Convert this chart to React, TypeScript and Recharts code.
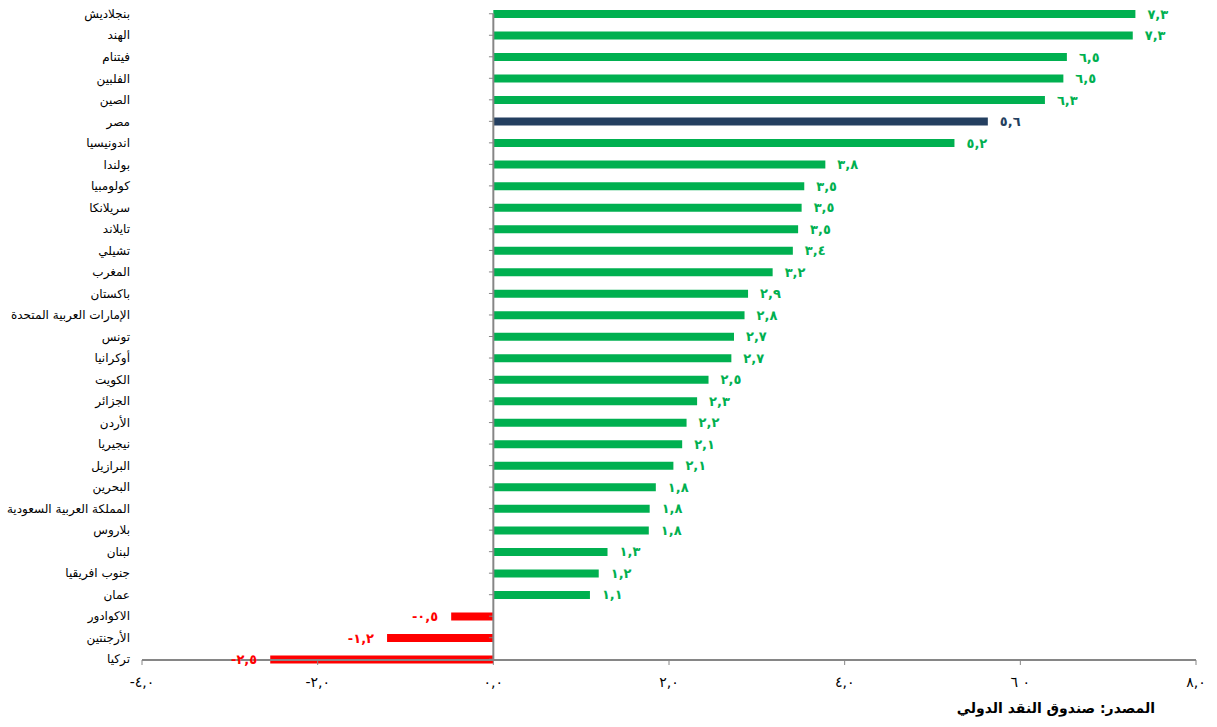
import { BarChart, Bar, XAxis, YAxis, Cell, LabelList, ReferenceLine } from 'recharts'

const COUNTRIES = [
  'بنجلاديش', 'الهند', 'فيتنام', 'الفلبين', 'الصين', 'مصر', 'اندونيسيا', 'بولندا',
  'كولومبيا', 'سريلانكا', 'تايلاند', 'تشيلي', 'المغرب', 'باكستان', 'الإمارات العربية المتحدة',
  'تونس', 'أوكرانيا', 'الكويت', 'الجزائر', 'الأردن', 'نيجيريا', 'البرازيل', 'البحرين',
  'المملكة العربية السعودية', 'بلاروس', 'لبنان', 'جنوب افريقيا', 'عمان', 'الاكوادور',
  'الأرجنتين', 'تركيا',
]

// bar lengths
const GROWTH = [
  7.31, 7.28, 6.53, 6.49, 6.28, 5.63, 5.25, 3.78,
  3.54, 3.51, 3.47, 3.41, 3.18, 2.90, 2.86,
  2.74, 2.71, 2.45, 2.32, 2.20, 2.15, 2.05, 1.85,
  1.78, 1.77, 1.30, 1.20, 1.10, -0.48,
  -1.21, -2.54,
]

// printed labels
const LABELS = [
  '٧,٣', '٧,٣', '٦,٥', '٦,٥', '٦,٣', '٥,٦', '٥,٢', '٣,٨',
  '٣,٥', '٣,٥', '٣,٥', '٣,٤', '٣,٢', '٢,٩', '٢,٨',
  '٢,٧', '٢,٧', '٢,٥', '٢,٣', '٢,٢', '٢,١', '٢,١', '١,٨',
  '١,٨', '١,٨', '١,٣', '١,٢', '١,١', '-٠,٥',
  '-١,٢', '-٢,٥',
]

const X_TICKS = [-4, -2, 0, 2, 4, 6, 8]
const X_TICK_LABELS = ['-٤,٠', '-٢,٠', '٠,٠', '٢,٠', '٤,٠', '٦\u200E ٠', '٨,٠']

const HIGHLIGHT = 'مصر'
const FONT = "'DejaVu Sans', Arial, sans-serif"

const data = COUNTRIES.map((name, i) => ({ name, value: GROWTH[i], label: LABELS[i] }))

const colorFor = (d: { name: string; value: number }) =>
  d.name === HIGHLIGHT ? '#243f60' : d.value < 0 ? '#ff0000' : '#00b050'

const BarLabel = (props: any) => {
  const { x, y, width, height, index } = props
  const d = data[index]
  const neg = d.value < 0
  const tx = neg ? Math.min(x, x + width) - 13 : x + width + 12
  return (
    <text
      x={tx}
      y={y + height / 2}
      dy="0.35em"
      textAnchor={neg ? 'end' : 'start'}
      fill={colorFor(d)}
      fontSize={13}
      fontWeight="bold"
      letterSpacing={3}
      fontFamily={FONT}
    >
      {d.label}
    </text>
  )
}

const CountryTick = (props: any) => {
  const { x, y, payload } = props
  return (
    <text x={x} y={y} dy="0.35em" textAnchor="end" fill="#000" fontSize={12} fontFamily={FONT}>
      {payload.value}
    </text>
  )
}

export default function App() {
  return (
    <div style={{ position: 'absolute', left: 0, top: 0, background: '#fff' }}>
      <BarChart
        width={1217}
        height={690}
        data={data}
        layout="vertical"
        margin={{ top: 3, right: 21, bottom: 0, left: 0 }}
        barSize={8}
      >
        <XAxis
          type="number"
          domain={[-4, 8]}
          ticks={X_TICKS}
          tickFormatter={(v: number) => X_TICK_LABELS[X_TICKS.indexOf(v)]}
          axisLine={{ stroke: '#868686', strokeWidth: 2 }}
          tickLine={{ stroke: '#868686' }}
          tickSize={5}
          tickMargin={12}
          height={30}
          tick={{ fill: '#000', fontSize: 14, fontFamily: FONT }}
        />
        <YAxis
          type="category"
          dataKey="name"
          width={142}
          interval={0}
          axisLine={false}
          tickLine={false}
          tickSize={0}
          tickMargin={12}
          padding={{ top: 0, bottom: -10 }}
          tick={<CountryTick />}
        />
        {COUNTRIES.map(c => (
          <ReferenceLine
            key={c}
            segment={[{ x: -0.05, y: c }, { x: 0, y: c }]}
            stroke="#868686"
            strokeWidth={1}
          />
        ))}
        <Bar dataKey="value" isAnimationActive={false}>
          {data.map(d => (
            <Cell key={d.name} fill={colorFor(d)} />
          ))}
          <LabelList dataKey="label" content={BarLabel} />
        </Bar>
        <ReferenceLine
          segment={[{ x: 0, y: COUNTRIES[0] }, { x: 0, y: COUNTRIES[COUNTRIES.length - 1] }]}
          stroke="#868686"
          strokeWidth={2}
        />
      </BarChart>
      <div
        style={{
          position: 'absolute',
          left: 940,
          top: 700,
          width: 215,
          textAlign: 'right',
          direction: 'rtl',
          fontFamily: FONT,
          fontWeight: 'bold',
          fontSize: 14,
          color: '#000',
        }}
      >
        المصدر: صندوق النقد الدولي
      </div>
    </div>
  )
}
